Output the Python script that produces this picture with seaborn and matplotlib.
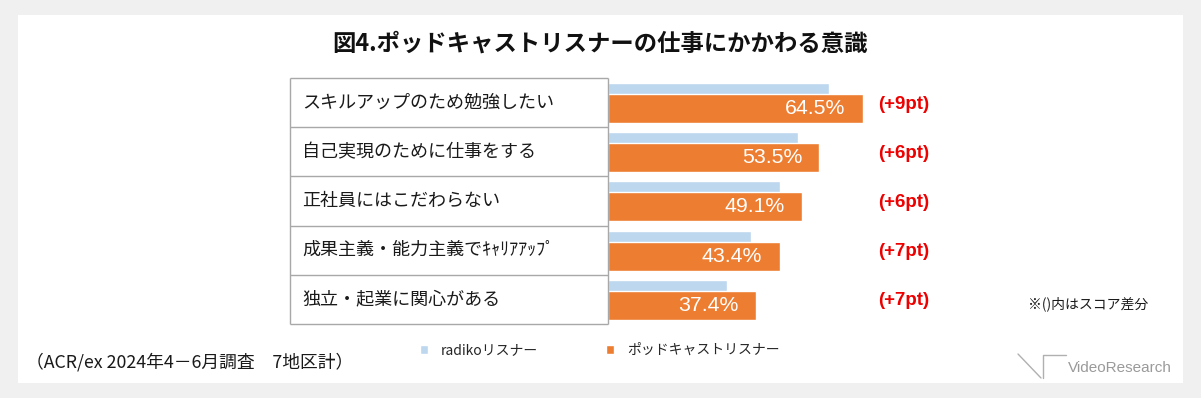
import numpy as np
import pandas as pd
import matplotlib
matplotlib.use("Agg")
import matplotlib.pyplot as plt
from matplotlib.patches import Rectangle
from matplotlib.lines import Line2D
import seaborn as sns

# ---- data ----
items = ["スキルアップのため勉強したい", "自己実現のために仕事をする", "正社員にはこだわらない",
         "成果主義・能力主義でｷｬﾘｱｱｯﾌﾟ", "独立・起業に関心がある"]
radiko = [55.9, 48.0, 43.4, 36.1, 30.0]
podcast = [64.5, 53.5, 49.1, 43.4, 37.4]
diffs = [9, 6, 6, 7, 7]
series_names = ["radikoリスナー", "ポッドキャストリスナー"]
title = "図4.ポッドキャストリスナーの仕事にかかわる意識"
source_note = "（ACR/ex 2024年4－6月調査　7地区計）"
diff_note = "※()内はスコア差分"

BLUE = "#bdd7ee"
ORANGE = "#ed7d31"
RED = "#ee0000"
GRID = "#a8a8a8"
JP = ["Noto Sans CJK JP", "DejaVu Sans"]
LAT = ["Liberation Sans", "DejaVu Sans"]

sns.set_theme(style="white")
plt.rcParams["font.family"] = JP

W, H = 1201, 398
fig = plt.figure(figsize=(W / 100, H / 100), dpi=100, facecolor="#f0f0f0")

def fx(px):
    return px / W

def fy(py):
    return 1 - py / H

# white panel
fig.patches.append(Rectangle((fx(18), fy(383)), fx(1165), 368 / H, transform=fig.transFigure,
                             facecolor="white", edgecolor="none", zorder=-5))

top, bot = 78, 324
n = len(items)
ax = fig.add_axes([fx(608), fy(bot), fx(395.3), (bot - top) / H])
tab = fig.add_axes([fx(290), fy(bot), fx(318), (bot - top) / H])
for a in (ax, tab):
    a.set_facecolor("none")
    a.set_zorder(2)
    for s in a.spines.values():
        s.set_visible(False)

pos = np.arange(n, dtype=float)
df = pd.DataFrame({"item": items, "radiko": radiko, "podcast": podcast,
                   "pb": pos - 0.105, "po": pos + 0.12})

sns.barplot(data=df, x="radiko", y="pb", orient="h", native_scale=True, color=BLUE,
            width=0.59, saturation=1, label=series_names[0], ax=ax, errorbar=None)
sns.barplot(data=df, x="podcast", y="po", orient="h", native_scale=True, color=ORANGE,
            width=0.59, saturation=1, label=series_names[1], ax=ax, errorbar=None)
ax.set_xlim(0, 100)
ax.set_ylim(n - 0.5, -0.5)
ax.set_xticks([]); ax.set_yticks([])
ax.set_xlabel(""); ax.set_ylabel("")
if ax.get_legend() is not None:
    ax.get_legend().remove()

for i, (v, d) in enumerate(zip(podcast, diffs)):
    ax.annotate(f"{v:.1f}%", xy=(v, pos[i] + 0.12), xytext=(-12.5, 0), textcoords="offset points",
                ha="right", va="center", color="white", fontsize=15.3, family=LAT)
    ax.text(68.3, pos[i] + 0.03, f"(+{d}pt)", ha="left", va="center", color=RED,
            fontsize=13.5, fontweight="bold", family=LAT)

# label table
tab.set_xlim(0, 1)
tab.set_ylim(n - 0.5, -0.5)
tab.set_xticks([]); tab.set_yticks([])
tab.hlines(np.arange(n + 1) - 0.5, 0, 1, color=GRID, lw=1.0, clip_on=False)
tab.vlines([0, 1], -0.5, n - 0.5, color=GRID, lw=1.0, clip_on=False)
for i, lab in enumerate(items):
    tab.text(12 / 318, pos[i], lab, ha="left", va="center", fontsize=13, color="#1a1a1a")

# title
fig.text(fx(600), fy(44), title, ha="center", va="center", fontsize=16.8,
         fontweight="bold", color="#111111")

# legend
h, l = ax.get_legend_handles_labels()
fig.legend(h, l, loc="center left", bbox_to_anchor=(fx(420), fy(350)), ncol=2, frameon=False,
           fontsize=10, handlelength=0.6, handleheight=0.6, handletextpad=0.9,
           columnspacing=4.9, borderaxespad=0, borderpad=0)

# notes
fig.text(fx(26), fy(362), source_note, ha="left", va="center", fontsize=12.8, color="#1a1a1a")
fig.text(fx(1028), fy(304), diff_note, ha="left", va="center", fontsize=10, color="#1a1a1a")

# logo
fig.add_artist(Line2D([fx(1018), fx(1041)], [fy(354), fy(378)], transform=fig.transFigure,
                      color="#b0b0b0", lw=1))
fig.add_artist(Line2D([fx(1043), fx(1043), fx(1066)], [fy(378), fy(355), fy(355)],
                      transform=fig.transFigure, color="#b0b0b0", lw=1))
fig.text(fx(1068), fy(368), "VideoResearch", ha="left", va="center", fontsize=11,
         color="#9a9a9a", family=LAT)

fig.savefig("out.png", dpi=100, facecolor=fig.get_facecolor())
